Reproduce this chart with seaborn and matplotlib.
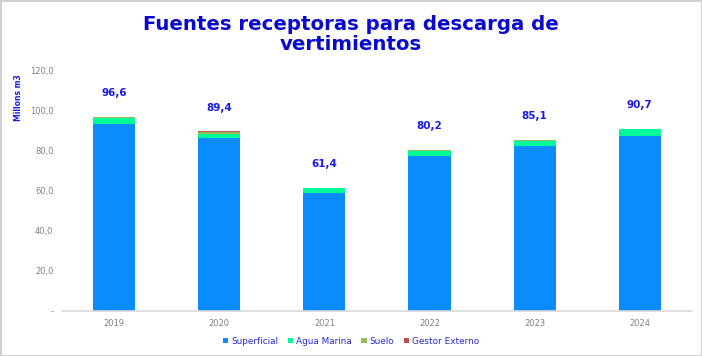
import matplotlib
matplotlib.use("Agg")
import matplotlib.pyplot as plt
from matplotlib.patches import Patch
from matplotlib.ticker import FuncFormatter
import seaborn as sns
import pandas as pd
import numpy as np

years = ["2019", "2020", "2021", "2022", "2023", "2024"]
superficial = [93.2, 86.4, 58.5, 77.0, 82.0, 87.4]
agua_marina = [3.0, 2.0, 2.5, 2.7, 2.6, 3.0]
suelo = [0.3, 0.8, 0.3, 0.4, 0.4, 0.2]
gestor_externo = [0.1, 0.2, 0.1, 0.1, 0.1, 0.1]
totals = [96.6, 89.4, 61.4, 80.2, 85.1, 90.7]

series_names = ["Superficial", "Agua Marina", "Suelo", "Gestor Externo"]
colors = ["#0A8CFF", "#00FA9A", "#9BBB59", "#C0504D"]

sns.set_theme(style="white")
plt.rcParams['font.family'] = ['DejaVu Sans']

df = pd.DataFrame({
    "year": years,
    "Superficial": superficial,
    "Agua Marina": agua_marina,
    "Suelo": suelo,
    "Gestor Externo": gestor_externo,
})
cum = df[series_names].cumsum(axis=1)

fig = plt.figure(figsize=(7.02, 3.56), dpi=100)
fig.patch.set_edgecolor("#D0D0D0")
fig.patch.set_linewidth(2)
ax = fig.add_axes([0.088, 0.127, 0.898, 0.676])

for name, col in reversed(list(zip(series_names, colors))):
    sns.barplot(x=df["year"], y=cum[name], color=col, width=0.4,
                saturation=1, ax=ax, linewidth=0)

for i, t in enumerate(totals):
    ax.text(i, t + 11.8, f"{t:.1f}".replace(".", ","), ha="center", va="center",
            fontsize=7.5, fontweight="bold", color="#1A1AE6")

ax.set_ylim(0, 120)
ax.set_xlim(-0.5, 5.5)
ax.set_yticks(np.arange(0, 121, 20))
ax.yaxis.set_major_formatter(FuncFormatter(
    lambda v, p: "-" if v == 0 else f"{v:.1f}".replace(".", ",")))
ax.tick_params(axis="both", labelsize=6, labelcolor="#808080", length=0, pad=6)
ax.set_xlabel("")
ax.set_ylabel("")
for s in ["top", "right", "left"]:
    ax.spines[s].set_visible(False)
ax.spines["bottom"].set_color("#D9D9D9")
ax.spines["bottom"].set_linewidth(1.2)

fig.text(0.5, 0.903, "Fuentes receptoras para descarga de\nvertimientos",
         ha="center", va="center", fontsize=14.2, fontweight="bold",
         color="#0A0ACC", linespacing=1.1)
fig.text(0.026, 0.727, "Millons m3", rotation=90, ha="center", va="center",
         fontsize=5.5, fontweight="bold", color="#1A1AE6")

handles = [Patch(facecolor=c, edgecolor="none", label=n)
           for n, c in zip(series_names, colors)]
leg = fig.legend(handles=handles, loc="center", bbox_to_anchor=(0.5, 0.042),
                 ncol=4, frameon=False, fontsize=6.4, handlelength=0.6,
                 handleheight=0.6, handletextpad=0.3, columnspacing=1.1)
for txt in leg.get_texts():
    txt.set_color("#2A2AD0")

fig.savefig("out.png", dpi=100)
